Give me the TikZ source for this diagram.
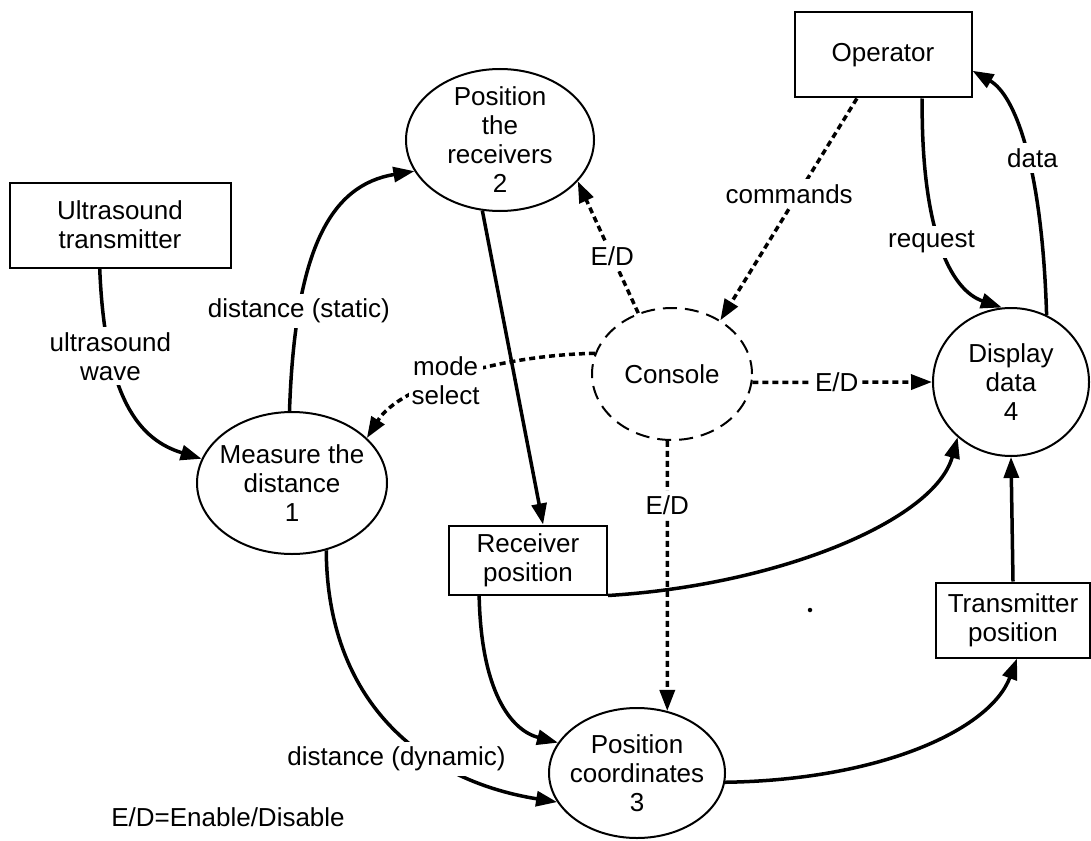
\documentclass[tikz,border=0pt]{standalone}
\usepackage{fontspec}
\setmainfont{Liberation Sans}
\usetikzlibrary{arrows.meta,shapes.geometric}
\begin{document}
\begin{tikzpicture}[x=1pt,y=-1pt,font=\fontsize{26}{29}\selectfont,
  box/.style={draw, line width=2pt, rectangle, inner sep=0pt, align=center},
  proc/.style={draw, line width=2pt, ellipse, inner sep=0pt},
  ptext/.style={align=center},
  flow/.style={line width=3.5pt, -{Triangle[length=21pt,width=15pt]}},
  ctrl/.style={flow, dash pattern=on 6pt off 4pt},
  lbl/.style={fill=white, inner xsep=3pt, inner ysep=5pt, align=center}]
\fill[white] (0,0) rectangle (1091,840);
\useasboundingbox (0,0) rectangle (1091,840);

% stores / external entities
\node[box, minimum width=221pt, minimum height=85pt] (ut) at (120,225) {Ultrasound\\transmitter};
\node[box, minimum width=177pt, minimum height=85pt] (op) at (883,55) {Operator};
\node[box, minimum width=158pt, minimum height=69pt] (rp) at (528,560) {Receiver\\position};
\node[box, minimum width=154pt, minimum height=75pt] (tp) at (1013,620) {Transmitter\\position};

% processes
\node[proc, minimum width=188pt, minimum height=142pt,
  label={[ptext,name=p2t]center:Position\\the\\receivers\\2}] (p2) at (500,140) {};
\node[proc, minimum width=190pt, minimum height=142pt,
  label={[ptext,name=p1t]center:Measure the\\distance\\1}] (p1) at (292,483) {};
\node[proc, minimum width=176pt, minimum height=130pt,
  label={[ptext,name=p3t]center:Position\\coordinates\\3}] (p3) at (637,773) {};
\node[proc, minimum width=156pt, minimum height=148pt,
  label={[ptext,name=p4t]center:Display\\data\\4}] (p4) at (1011,382) {};
\node[proc, dash pattern=on 14pt off 8pt, minimum width=160pt, minimum height=132pt,
  label={[ptext,name=cont]center:Console}] (con) at (672,374) {};

% data flows
\draw[flow] (ut.-115) .. controls (105,400) and (140,440) .. (p1.165)
  node[lbl,pos=.27] (l1) {ultrasound\\wave};
\draw[flow] (p1.92) .. controls (295,250) and (330,185) .. (p2.-160)
  node[lbl,pos=.24] (l2) {distance (static)};
\draw[flow] (p2.-104) -- (rp.67);
\draw[flow] (op.-48) .. controls (921,230) and (950,290) .. (p4.97)
  node[lbl,pos=.48,xshift=-9pt] (l6) {request};
\draw[flow] (p4.62) .. controls (1042,165) and (1015,95) .. (op.-10)
  node[lbl,pos=.45,xshift=5pt] (l7) {data};
\draw[flow] (rp.south east) .. controls (780,585) and (935,520) .. (p4.-134);
\draw[flow] (rp.-144) .. controls (481,690) and (510,730) .. (p3.159);
\draw[flow] (p1.-63) .. controls (327,700) and (420,780) .. (p3.-160)
  node[lbl,pos=.66,xshift=-38pt] (l13) {distance (dynamic)};
\draw[flow] (p3.-6) .. controls (880,780) and (990,730) .. (tp.-84);
\draw[flow] (tp.north) -- (p4.south);

% control flows
\draw[ctrl] (con.119) -- (p2.-28) node[lbl,pos=.43] (l4) {E/D};
\draw[ctrl] (op.-121) -- (con.48) node[lbl,pos=.43,xshift=-9pt] (l5) {commands};
\draw[ctrl] (con.-6) -- (p4.west) node[lbl,pos=.47] (l8) {E/D};
\draw[ctrl] (con.165) .. controls (500,355) and (400,385) .. (p1.31)
  node[lbl,pos=.55] (l9) {mode\\select};
\draw[ctrl] (con.-94) -- (p3.64) node[lbl,pos=.24] (l10) {E/D};

% legend and stray dot
\node (leg) at (228,817) {E/D=Enable/Disable};
\node[circle, fill=black, inner sep=0pt, minimum size=4.5pt] (dot) at (810,610) {};
\end{tikzpicture}
\end{document}
